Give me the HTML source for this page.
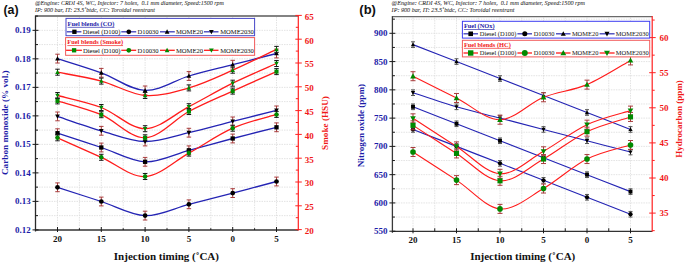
<!DOCTYPE html>
<html><head><meta charset="utf-8"><style>
html,body{margin:0;padding:0;background:#fff;width:685px;height:263px;overflow:hidden;}
svg{display:block;}
</style></head><body>
<svg width="685" height="263" viewBox="0 0 685 263">
<rect width="685" height="263" fill="#fff"/>
<path d="M57.5,17 V229 M79.4,17 V229 M101.3,17 V229 M123.2,17 V229 M145.1,17 V229 M167,17 V229 M188.9,17 V229 M210.8,17 V229 M232.7,17 V229 M254.6,17 V229 M276.5,17 V229 M36.5,215.64 H297.3 M36.5,201.39 H297.3 M36.5,187.13 H297.3 M36.5,172.88 H297.3 M36.5,158.63 H297.3 M36.5,144.37 H297.3 M36.5,130.12 H297.3 M36.5,115.86 H297.3 M36.5,101.6 H297.3 M36.5,87.35 H297.3 M36.5,73.1 H297.3 M36.5,58.84 H297.3 M36.5,44.59 H297.3 M36.5,30.33 H297.3" stroke="#dcdcdc" stroke-width="0.8" stroke-dasharray="1.5 1" fill="none"/>
<path d="M35.5,16 H298.3" stroke="#5a5a5a" stroke-width="1.4" fill="none"/>
<path d="M35.5,15.5 V231.5" stroke="#2a2a2a" stroke-width="1.3" fill="none"/>
<path d="M35.5,230 H298.3" stroke="#333" stroke-width="1.3" fill="none"/>
<path d="M298.3,15.5 V230.5" stroke="#ff2020" stroke-width="1.2" fill="none"/>
<path d="M57.5,227 V232 M101.3,227 V232 M145.1,227 V232 M188.9,227 V232 M232.7,227 V232 M276.5,227 V232 M79.4,228.2 V230 M123.2,228.2 V230 M167,228.2 V230 M210.8,228.2 V230 M254.6,228.2 V230" stroke="#1a1a1a" stroke-width="1" fill="none"/>
<path d="M32.5,229.9 H38.5 M32.5,201.39 H38.5 M32.5,172.88 H38.5 M32.5,144.37 H38.5 M32.5,115.86 H38.5 M32.5,87.35 H38.5 M32.5,58.84 H38.5 M32.5,30.33 H38.5 M35.5,215.64 H38 M35.5,187.13 H38 M35.5,158.63 H38 M35.5,130.12 H38 M35.5,101.6 H38 M35.5,73.1 H38 M35.5,44.59 H38 M35.5,16.07 H38" stroke="#1a1a1a" stroke-width="1" fill="none"/>
<path d="M295.3,229.6 H301.8 M295.3,205.8 H301.8 M295.3,182 H301.8 M295.3,158.2 H301.8 M295.3,134.4 H301.8 M295.3,110.6 H301.8 M295.3,86.8 H301.8 M295.3,63 H301.8 M295.3,39.2 H301.8 M295.3,15.4 H301.8 M295.8,217.7 H298.3 M295.8,193.9 H298.3 M295.8,170.1 H298.3 M295.8,146.3 H298.3 M295.8,122.5 H298.3 M295.8,98.7 H298.3 M295.8,74.9 H298.3 M295.8,51.1 H298.3 M295.8,27.3 H298.3" stroke="#ff2020" stroke-width="1" fill="none"/>
<text x="57.5" y="242.2" text-anchor="middle" font-family='"Liberation Serif", serif' font-weight="bold" font-size="9" fill="#111">20</text>
<text x="101.3" y="242.2" text-anchor="middle" font-family='"Liberation Serif", serif' font-weight="bold" font-size="9" fill="#111">15</text>
<text x="145.1" y="242.2" text-anchor="middle" font-family='"Liberation Serif", serif' font-weight="bold" font-size="9" fill="#111">10</text>
<text x="188.9" y="242.2" text-anchor="middle" font-family='"Liberation Serif", serif' font-weight="bold" font-size="9" fill="#111">5</text>
<text x="232.7" y="242.2" text-anchor="middle" font-family='"Liberation Serif", serif' font-weight="bold" font-size="9" fill="#111">0</text>
<text x="276.5" y="242.2" text-anchor="middle" font-family='"Liberation Serif", serif' font-weight="bold" font-size="9" fill="#111">5</text>
<text x="30.7" y="233" text-anchor="end" font-family='"Liberation Serif", serif' font-weight="bold" font-size="9" fill="#1c1ca8">0.12</text>
<text x="30.7" y="204.49" text-anchor="end" font-family='"Liberation Serif", serif' font-weight="bold" font-size="9" fill="#1c1ca8">0.13</text>
<text x="30.7" y="175.98" text-anchor="end" font-family='"Liberation Serif", serif' font-weight="bold" font-size="9" fill="#1c1ca8">0.14</text>
<text x="30.7" y="147.47" text-anchor="end" font-family='"Liberation Serif", serif' font-weight="bold" font-size="9" fill="#1c1ca8">0.15</text>
<text x="30.7" y="118.96" text-anchor="end" font-family='"Liberation Serif", serif' font-weight="bold" font-size="9" fill="#1c1ca8">0.16</text>
<text x="30.7" y="90.45" text-anchor="end" font-family='"Liberation Serif", serif' font-weight="bold" font-size="9" fill="#1c1ca8">0.17</text>
<text x="30.7" y="61.94" text-anchor="end" font-family='"Liberation Serif", serif' font-weight="bold" font-size="9" fill="#1c1ca8">0.18</text>
<text x="30.7" y="33.43" text-anchor="end" font-family='"Liberation Serif", serif' font-weight="bold" font-size="9" fill="#1c1ca8">0.19</text>
<text x="304.8" y="234" font-family='"Liberation Serif", serif' font-weight="bold" font-size="9" fill="#f01818">20</text>
<text x="304.8" y="210.2" font-family='"Liberation Serif", serif' font-weight="bold" font-size="9" fill="#f01818">25</text>
<text x="304.8" y="186.4" font-family='"Liberation Serif", serif' font-weight="bold" font-size="9" fill="#f01818">30</text>
<text x="304.8" y="162.6" font-family='"Liberation Serif", serif' font-weight="bold" font-size="9" fill="#f01818">35</text>
<text x="304.8" y="138.8" font-family='"Liberation Serif", serif' font-weight="bold" font-size="9" fill="#f01818">40</text>
<text x="304.8" y="115" font-family='"Liberation Serif", serif' font-weight="bold" font-size="9" fill="#f01818">45</text>
<text x="304.8" y="91.2" font-family='"Liberation Serif", serif' font-weight="bold" font-size="9" fill="#f01818">50</text>
<text x="304.8" y="67.4" font-family='"Liberation Serif", serif' font-weight="bold" font-size="9" fill="#f01818">55</text>
<text x="304.8" y="43.6" font-family='"Liberation Serif", serif' font-weight="bold" font-size="9" fill="#f01818">60</text>
<text x="304.8" y="19.8" font-family='"Liberation Serif", serif' font-weight="bold" font-size="9" fill="#f01818">65</text>
<text x="166.4" y="259.8" text-anchor="middle" font-family='"Liberation Serif", serif' font-weight="bold" font-size="11" fill="#111">Injection timing (&#730;CA)</text>
<text transform="translate(8.2,122.7) rotate(-90)" text-anchor="middle" font-family='"Liberation Serif", serif' font-weight="bold" font-size="9.2" fill="#1c1ca8">Carbon monoxide (% vol.)</text>
<text transform="translate(328.1,123) rotate(-90)" text-anchor="middle" font-family='"Liberation Serif", serif' font-weight="bold" font-size="9.2" fill="#f01818">Smoke (HSU)</text>
<text x="34.9" y="5.4" font-family='"Liberation Serif", serif' font-style="italic" font-size="6.0" fill="#2a2a2a" stroke="#2a2a2a" stroke-width="0.05">@Engine: CRDI 4S, WC, Injector: 7 holes,&#160; 0.1 mm diameter, Speed:1500 rpm</text>
<text x="34.9" y="12.4" font-family='"Liberation Serif", serif' font-style="italic" font-size="6.0" fill="#2a2a2a" stroke="#2a2a2a" stroke-width="0.05">IP: 900 bar, IT: 23.5&#730;btdc, CC: Toroidal reentrant</text>
<text x="3.4" y="14.3" font-family='"Liberation Sans", sans-serif' font-weight="bold" font-size="12.4" fill="#111">(a)</text>
<path d="M57.5,58.6 C64.8,60.97 86.7,67.5 101.3,72.8 C115.9,78.1 130.5,89.87 145.1,90.4 C159.7,90.93 174.3,80.28 188.9,76 C203.5,71.72 218.1,68.45 232.7,64.7 C247.3,60.95 269.2,55.37 276.5,53.5" stroke="#2424b4" stroke-width="1.3" fill="none"/>
<path d="M57.5,116.4 C64.8,118.8 86.7,126.62 101.3,130.8 C115.9,134.98 130.5,141.18 145.1,141.5 C159.7,141.82 174.3,136.05 188.9,132.7 C203.5,129.35 218.1,125.12 232.7,121.4 C247.3,117.68 269.2,112.23 276.5,110.4" stroke="#2424b4" stroke-width="1.3" fill="none"/>
<path d="M57.5,133.2 C64.8,135.58 86.7,142.73 101.3,147.5 C115.9,152.27 130.5,161.33 145.1,161.8 C159.7,162.27 174.3,154.18 188.9,150.3 C203.5,146.42 218.1,142.33 232.7,138.5 C247.3,134.67 269.2,129.17 276.5,127.3" stroke="#2424b4" stroke-width="1.3" fill="none"/>
<path d="M57.5,187.3 C64.8,189.67 86.7,196.78 101.3,201.5 C115.9,206.22 130.5,215.13 145.1,215.6 C159.7,216.07 174.3,208.05 188.9,204.3 C203.5,200.55 218.1,196.9 232.7,193.1 C247.3,189.3 269.2,183.43 276.5,181.5" stroke="#2424b4" stroke-width="1.3" fill="none"/>
<path d="M57.5,54.2 V63 M55.25,54.2 H59.75 M55.25,63 H59.75" stroke="#a83c3c" stroke-width="1.0" fill="none"/>
<path d="M101.3,68.4 V77.2 M99.05,68.4 H103.55 M99.05,77.2 H103.55" stroke="#a83c3c" stroke-width="1.0" fill="none"/>
<path d="M145.1,86 V94.8 M142.85,86 H147.35 M142.85,94.8 H147.35" stroke="#a83c3c" stroke-width="1.0" fill="none"/>
<path d="M188.9,71.6 V80.4 M186.65,71.6 H191.15 M186.65,80.4 H191.15" stroke="#a83c3c" stroke-width="1.0" fill="none"/>
<path d="M232.7,60.3 V69.1 M230.45,60.3 H234.95 M230.45,69.1 H234.95" stroke="#a83c3c" stroke-width="1.0" fill="none"/>
<path d="M276.5,49.1 V57.9 M274.25,49.1 H278.75 M274.25,57.9 H278.75" stroke="#a83c3c" stroke-width="1.0" fill="none"/>
<path d="M57.5,112 V120.8 M55.25,112 H59.75 M55.25,120.8 H59.75" stroke="#a83c3c" stroke-width="1.0" fill="none"/>
<path d="M101.3,126.4 V135.2 M99.05,126.4 H103.55 M99.05,135.2 H103.55" stroke="#a83c3c" stroke-width="1.0" fill="none"/>
<path d="M145.1,137.1 V145.9 M142.85,137.1 H147.35 M142.85,145.9 H147.35" stroke="#a83c3c" stroke-width="1.0" fill="none"/>
<path d="M188.9,128.3 V137.1 M186.65,128.3 H191.15 M186.65,137.1 H191.15" stroke="#a83c3c" stroke-width="1.0" fill="none"/>
<path d="M232.7,117 V125.8 M230.45,117 H234.95 M230.45,125.8 H234.95" stroke="#a83c3c" stroke-width="1.0" fill="none"/>
<path d="M276.5,106 V114.8 M274.25,106 H278.75 M274.25,114.8 H278.75" stroke="#a83c3c" stroke-width="1.0" fill="none"/>
<path d="M57.5,128.8 V137.6 M55.25,128.8 H59.75 M55.25,137.6 H59.75" stroke="#a83c3c" stroke-width="1.0" fill="none"/>
<path d="M101.3,143.1 V151.9 M99.05,143.1 H103.55 M99.05,151.9 H103.55" stroke="#a83c3c" stroke-width="1.0" fill="none"/>
<path d="M145.1,157.4 V166.2 M142.85,157.4 H147.35 M142.85,166.2 H147.35" stroke="#a83c3c" stroke-width="1.0" fill="none"/>
<path d="M188.9,145.9 V154.7 M186.65,145.9 H191.15 M186.65,154.7 H191.15" stroke="#a83c3c" stroke-width="1.0" fill="none"/>
<path d="M232.7,134.1 V142.9 M230.45,134.1 H234.95 M230.45,142.9 H234.95" stroke="#a83c3c" stroke-width="1.0" fill="none"/>
<path d="M276.5,122.9 V131.7 M274.25,122.9 H278.75 M274.25,131.7 H278.75" stroke="#a83c3c" stroke-width="1.0" fill="none"/>
<path d="M57.5,182.9 V191.7 M55.25,182.9 H59.75 M55.25,191.7 H59.75" stroke="#a83c3c" stroke-width="1.0" fill="none"/>
<path d="M101.3,197.1 V205.9 M99.05,197.1 H103.55 M99.05,205.9 H103.55" stroke="#a83c3c" stroke-width="1.0" fill="none"/>
<path d="M145.1,211.2 V220 M142.85,211.2 H147.35 M142.85,220 H147.35" stroke="#a83c3c" stroke-width="1.0" fill="none"/>
<path d="M188.9,199.9 V208.7 M186.65,199.9 H191.15 M186.65,208.7 H191.15" stroke="#a83c3c" stroke-width="1.0" fill="none"/>
<path d="M232.7,188.7 V197.5 M230.45,188.7 H234.95 M230.45,197.5 H234.95" stroke="#a83c3c" stroke-width="1.0" fill="none"/>
<path d="M276.5,177.1 V185.9 M274.25,177.1 H278.75 M274.25,185.9 H278.75" stroke="#a83c3c" stroke-width="1.0" fill="none"/>
<path d="M57.5,56.15 L59.87,60.44 L55.13,60.44 Z" fill="#000"/>
<path d="M101.3,70.35 L103.66,74.64 L98.94,74.64 Z" fill="#000"/>
<path d="M145.1,87.95 L147.47,92.24 L142.73,92.24 Z" fill="#000"/>
<path d="M188.9,73.55 L191.26,77.84 L186.53,77.84 Z" fill="#000"/>
<path d="M232.7,62.25 L235.06,66.54 L230.33,66.54 Z" fill="#000"/>
<path d="M276.5,51.05 L278.87,55.34 L274.13,55.34 Z" fill="#000"/>
<path d="M57.5,118.85 L59.87,114.56 L55.13,114.56 Z" fill="#000"/>
<path d="M101.3,133.25 L103.66,128.96 L98.94,128.96 Z" fill="#000"/>
<path d="M145.1,143.95 L147.47,139.66 L142.73,139.66 Z" fill="#000"/>
<path d="M188.9,135.15 L191.26,130.86 L186.53,130.86 Z" fill="#000"/>
<path d="M232.7,123.85 L235.06,119.56 L230.33,119.56 Z" fill="#000"/>
<path d="M276.5,112.85 L278.87,108.56 L274.13,108.56 Z" fill="#000"/>
<rect x="55.35" y="131.05" width="4.3" height="4.3" fill="#000"/>
<rect x="99.15" y="145.35" width="4.3" height="4.3" fill="#000"/>
<rect x="142.95" y="159.65" width="4.3" height="4.3" fill="#000"/>
<rect x="186.75" y="148.15" width="4.3" height="4.3" fill="#000"/>
<rect x="230.55" y="136.35" width="4.3" height="4.3" fill="#000"/>
<rect x="274.35" y="125.15" width="4.3" height="4.3" fill="#000"/>
<circle cx="57.5" cy="187.3" r="2.37" fill="#000"/>
<circle cx="101.3" cy="201.5" r="2.37" fill="#000"/>
<circle cx="145.1" cy="215.6" r="2.37" fill="#000"/>
<circle cx="188.9" cy="204.3" r="2.37" fill="#000"/>
<circle cx="232.7" cy="193.1" r="2.37" fill="#000"/>
<circle cx="276.5" cy="181.5" r="2.37" fill="#000"/>
<path d="M57.5,72.2 C64.8,73.68 86.7,77.22 101.3,81.1 C115.9,84.98 130.5,94.37 145.1,95.5 C159.7,96.63 174.3,92.12 188.9,87.9 C203.5,83.68 218.1,76.62 232.7,70.2 C247.3,63.78 269.2,52.87 276.5,49.4" stroke="#ff1c1c" stroke-width="1.3" fill="none"/>
<path d="M57.5,95.5 C64.8,97.5 86.7,101.97 101.3,107.5 C115.9,113.03 130.5,128.83 145.1,128.7 C159.7,128.57 174.3,114.28 188.9,106.7 C203.5,99.12 218.1,90.4 232.7,83.2 C247.3,76 269.2,66.78 276.5,63.5" stroke="#ff1c1c" stroke-width="1.3" fill="none"/>
<path d="M57.5,100.9 C64.8,103.2 86.7,108.55 101.3,114.7 C115.9,120.85 130.5,138.33 145.1,137.8 C159.7,137.27 174.3,119.28 188.9,111.5 C203.5,103.72 218.1,97.75 232.7,91.1 C247.3,84.45 269.2,74.85 276.5,71.6" stroke="#ff1c1c" stroke-width="1.3" fill="none"/>
<path d="M57.5,137.8 C64.8,141.05 86.7,150.85 101.3,157.3 C115.9,163.75 130.5,177.2 145.1,176.5 C159.7,175.8 174.3,161.15 188.9,153.1 C203.5,145.05 218.1,134.65 232.7,128.2 C247.3,121.75 269.2,116.7 276.5,114.4" stroke="#ff1c1c" stroke-width="1.3" fill="none"/>
<path d="M57.5,69.2 V75.2 M55.25,69.2 H59.75 M55.25,75.2 H59.75" stroke="#1a1a1a" stroke-width="1.0" fill="none"/>
<path d="M101.3,78.1 V84.1 M99.05,78.1 H103.55 M99.05,84.1 H103.55" stroke="#1a1a1a" stroke-width="1.0" fill="none"/>
<path d="M145.1,92.5 V98.5 M142.85,92.5 H147.35 M142.85,98.5 H147.35" stroke="#1a1a1a" stroke-width="1.0" fill="none"/>
<path d="M188.9,84.9 V90.9 M186.65,84.9 H191.15 M186.65,90.9 H191.15" stroke="#1a1a1a" stroke-width="1.0" fill="none"/>
<path d="M232.7,67.2 V73.2 M230.45,67.2 H234.95 M230.45,73.2 H234.95" stroke="#1a1a1a" stroke-width="1.0" fill="none"/>
<path d="M276.5,46.4 V52.4 M274.25,46.4 H278.75 M274.25,52.4 H278.75" stroke="#1a1a1a" stroke-width="1.0" fill="none"/>
<path d="M57.5,92.5 V98.5 M55.25,92.5 H59.75 M55.25,98.5 H59.75" stroke="#1a1a1a" stroke-width="1.0" fill="none"/>
<path d="M101.3,104.5 V110.5 M99.05,104.5 H103.55 M99.05,110.5 H103.55" stroke="#1a1a1a" stroke-width="1.0" fill="none"/>
<path d="M145.1,125.7 V131.7 M142.85,125.7 H147.35 M142.85,131.7 H147.35" stroke="#1a1a1a" stroke-width="1.0" fill="none"/>
<path d="M188.9,103.7 V109.7 M186.65,103.7 H191.15 M186.65,109.7 H191.15" stroke="#1a1a1a" stroke-width="1.0" fill="none"/>
<path d="M232.7,80.2 V86.2 M230.45,80.2 H234.95 M230.45,86.2 H234.95" stroke="#1a1a1a" stroke-width="1.0" fill="none"/>
<path d="M276.5,60.5 V66.5 M274.25,60.5 H278.75 M274.25,66.5 H278.75" stroke="#1a1a1a" stroke-width="1.0" fill="none"/>
<path d="M57.5,97.9 V103.9 M55.25,97.9 H59.75 M55.25,103.9 H59.75" stroke="#1a1a1a" stroke-width="1.0" fill="none"/>
<path d="M101.3,111.7 V117.7 M99.05,111.7 H103.55 M99.05,117.7 H103.55" stroke="#1a1a1a" stroke-width="1.0" fill="none"/>
<path d="M145.1,134.8 V140.8 M142.85,134.8 H147.35 M142.85,140.8 H147.35" stroke="#1a1a1a" stroke-width="1.0" fill="none"/>
<path d="M188.9,108.5 V114.5 M186.65,108.5 H191.15 M186.65,114.5 H191.15" stroke="#1a1a1a" stroke-width="1.0" fill="none"/>
<path d="M232.7,88.1 V94.1 M230.45,88.1 H234.95 M230.45,94.1 H234.95" stroke="#1a1a1a" stroke-width="1.0" fill="none"/>
<path d="M276.5,68.6 V74.6 M274.25,68.6 H278.75 M274.25,74.6 H278.75" stroke="#1a1a1a" stroke-width="1.0" fill="none"/>
<path d="M57.5,134.8 V140.8 M55.25,134.8 H59.75 M55.25,140.8 H59.75" stroke="#1a1a1a" stroke-width="1.0" fill="none"/>
<path d="M101.3,154.3 V160.3 M99.05,154.3 H103.55 M99.05,160.3 H103.55" stroke="#1a1a1a" stroke-width="1.0" fill="none"/>
<path d="M145.1,173.5 V179.5 M142.85,173.5 H147.35 M142.85,179.5 H147.35" stroke="#1a1a1a" stroke-width="1.0" fill="none"/>
<path d="M188.9,150.1 V156.1 M186.65,150.1 H191.15 M186.65,156.1 H191.15" stroke="#1a1a1a" stroke-width="1.0" fill="none"/>
<path d="M232.7,125.2 V131.2 M230.45,125.2 H234.95 M230.45,131.2 H234.95" stroke="#1a1a1a" stroke-width="1.0" fill="none"/>
<path d="M276.5,111.4 V117.4 M274.25,111.4 H278.75 M274.25,117.4 H278.75" stroke="#1a1a1a" stroke-width="1.0" fill="none"/>
<path d="M57.5,69.86 L59.76,73.95 L55.24,73.95 Z" fill="#008a00"/>
<path d="M101.3,78.76 L103.55,82.85 L99.05,82.85 Z" fill="#008a00"/>
<path d="M145.1,93.16 L147.35,97.25 L142.84,97.25 Z" fill="#008a00"/>
<path d="M188.9,85.56 L191.15,89.65 L186.64,89.65 Z" fill="#008a00"/>
<path d="M232.7,67.86 L234.95,71.95 L230.44,71.95 Z" fill="#008a00"/>
<path d="M276.5,47.06 L278.75,51.15 L274.25,51.15 Z" fill="#008a00"/>
<path d="M57.5,97.84 L59.76,93.75 L55.24,93.75 Z" fill="#008a00"/>
<path d="M101.3,109.84 L103.55,105.75 L99.05,105.75 Z" fill="#008a00"/>
<path d="M145.1,131.04 L147.35,126.95 L142.84,126.95 Z" fill="#008a00"/>
<path d="M188.9,109.04 L191.15,104.95 L186.64,104.95 Z" fill="#008a00"/>
<path d="M232.7,85.54 L234.95,81.45 L230.44,81.45 Z" fill="#008a00"/>
<path d="M276.5,65.84 L278.75,61.75 L274.25,61.75 Z" fill="#008a00"/>
<rect x="55.45" y="98.85" width="4.1" height="4.1" fill="#008a00"/>
<rect x="99.25" y="112.65" width="4.1" height="4.1" fill="#008a00"/>
<rect x="143.05" y="135.75" width="4.1" height="4.1" fill="#008a00"/>
<rect x="186.85" y="109.45" width="4.1" height="4.1" fill="#008a00"/>
<rect x="230.65" y="89.05" width="4.1" height="4.1" fill="#008a00"/>
<rect x="274.45" y="69.55" width="4.1" height="4.1" fill="#008a00"/>
<circle cx="57.5" cy="137.8" r="2.25" fill="#008a00"/>
<circle cx="101.3" cy="157.3" r="2.25" fill="#008a00"/>
<circle cx="145.1" cy="176.5" r="2.25" fill="#008a00"/>
<circle cx="188.9" cy="153.1" r="2.25" fill="#008a00"/>
<circle cx="232.7" cy="128.2" r="2.25" fill="#008a00"/>
<circle cx="276.5" cy="114.4" r="2.25" fill="#008a00"/>
<rect x="66" y="18.4" width="188.6" height="17.3" fill="#fff" stroke="#4646c8" stroke-width="1"/>
<text x="67.6" y="25.9" font-family='"Liberation Serif", serif' font-weight="bold" font-size="6.4" fill="#1c1ca8" text-decoration="underline">Fuel blends (CO)</text>
<path d="M66.8,31.8 H81.4" stroke="#3a3ab8" stroke-width="1.3"/>
<rect x="72.25" y="29.65" width="4.3" height="4.3" fill="#000"/>
<text x="82.8" y="34.1" font-family='"Liberation Serif", serif' font-size="6.6" fill="#1a1a1a" stroke="#1a1a1a" stroke-width="0.04">Diesel (D100)</text>
<path d="M121.3,31.8 H136.2" stroke="#3a3ab8" stroke-width="1.3"/>
<circle cx="128.8" cy="31.8" r="2.37" fill="#000"/>
<text x="137.4" y="34.1" font-family='"Liberation Serif", serif' font-size="6.6" fill="#1a1a1a" stroke="#1a1a1a" stroke-width="0.04">D10030</text>
<path d="M160,31.8 H174.8" stroke="#3a3ab8" stroke-width="1.3"/>
<path d="M167.1,29.35 L169.47,33.64 L164.73,33.64 Z" fill="#000"/>
<text x="176" y="34.1" font-family='"Liberation Serif", serif' font-size="6.6" fill="#1a1a1a" stroke="#1a1a1a" stroke-width="0.04">MOME20</text>
<path d="M204,31.8 H218.5" stroke="#3a3ab8" stroke-width="1.3"/>
<path d="M211.4,34.25 L213.77,29.96 L209.03,29.96 Z" fill="#000"/>
<text x="220.2" y="34.1" font-family='"Liberation Serif", serif' font-size="6.6" fill="#1a1a1a" stroke="#1a1a1a" stroke-width="0.04">MOME2030</text>
<rect x="65.6" y="37.6" width="189" height="17.7" fill="#fff" stroke="#f25a5a" stroke-width="1"/>
<text x="67.3" y="44.4" font-family='"Liberation Serif", serif' font-weight="bold" font-size="6.4" fill="#f01818" text-decoration="underline">Fuel blends (Smoke)</text>
<path d="M66.1,50.3 H81.9" stroke="#ff1c1c" stroke-width="1.3"/>
<rect x="71.95" y="48.15" width="4.3" height="4.3" fill="#008a00"/>
<text x="83" y="52.6" font-family='"Liberation Serif", serif' font-size="6.6" fill="#1a1a1a" stroke="#1a1a1a" stroke-width="0.04">Diesel (D100)</text>
<path d="M121.3,50.3 H136.2" stroke="#ff1c1c" stroke-width="1.3"/>
<circle cx="128.8" cy="50.3" r="2.37" fill="#008a00"/>
<text x="137.4" y="52.6" font-family='"Liberation Serif", serif' font-size="6.6" fill="#1a1a1a" stroke="#1a1a1a" stroke-width="0.04">D10030</text>
<path d="M160,50.3 H174.8" stroke="#ff1c1c" stroke-width="1.3"/>
<path d="M167.1,47.85 L169.47,52.14 L164.73,52.14 Z" fill="#008a00"/>
<text x="176" y="52.6" font-family='"Liberation Serif", serif' font-size="6.6" fill="#1a1a1a" stroke="#1a1a1a" stroke-width="0.04">MOME20</text>
<path d="M204,50.3 H218.5" stroke="#ff1c1c" stroke-width="1.3"/>
<path d="M211.4,52.75 L213.77,48.46 L209.03,48.46 Z" fill="#008a00"/>
<text x="220.2" y="52.6" font-family='"Liberation Serif", serif' font-size="6.6" fill="#1a1a1a" stroke="#1a1a1a" stroke-width="0.04">MOME2030</text>
<path d="M413,17.6 V230.3 M434.75,17.6 V230.3 M456.5,17.6 V230.3 M478.25,17.6 V230.3 M500,17.6 V230.3 M521.75,17.6 V230.3 M543.5,17.6 V230.3 M565.25,17.6 V230.3 M587,17.6 V230.3 M608.75,17.6 V230.3 M630.5,17.6 V230.3 M393.4,217.06 H651.2 M393.4,202.93 H651.2 M393.4,188.79 H651.2 M393.4,174.66 H651.2 M393.4,160.52 H651.2 M393.4,146.39 H651.2 M393.4,132.25 H651.2 M393.4,118.12 H651.2 M393.4,103.98 H651.2 M393.4,89.85 H651.2 M393.4,75.71 H651.2 M393.4,61.58 H651.2 M393.4,47.44 H651.2 M393.4,33.31 H651.2 M393.4,19.17 H651.2" stroke="#dcdcdc" stroke-width="0.8" stroke-dasharray="1.5 1" fill="none"/>
<path d="M392.4,16.6 H652.2" stroke="#6a6a6a" stroke-width="1.4" fill="none"/>
<path d="M392.4,16.1 V232.8" stroke="#3a3a3a" stroke-width="1.3" fill="none"/>
<path d="M392.4,231.3 H652.2" stroke="#333" stroke-width="1.3" fill="none"/>
<path d="M652.2,16.1 V231.8" stroke="#ff2020" stroke-width="1.2" fill="none"/>
<path d="M413,228.3 V233.3 M456.5,228.3 V233.3 M500,228.3 V233.3 M543.5,228.3 V233.3 M587,228.3 V233.3 M630.5,228.3 V233.3 M434.75,228.3 V231.3 M478.25,228.3 V231.3 M521.75,228.3 V231.3 M565.25,228.3 V231.3 M608.75,228.3 V231.3" stroke="#1a1a1a" stroke-width="1" fill="none"/>
<path d="M389.4,231.2 H395.4 M389.4,202.93 H395.4 M389.4,174.66 H395.4 M389.4,146.39 H395.4 M389.4,118.12 H395.4 M389.4,89.85 H395.4 M389.4,61.58 H395.4 M389.4,33.31 H395.4 M392.4,217.06 H394.9 M392.4,188.79 H394.9 M392.4,160.52 H394.9 M392.4,132.25 H394.9 M392.4,103.98 H394.9 M392.4,75.71 H394.9 M392.4,47.44 H394.9 M392.4,19.17 H394.9" stroke="#1a1a1a" stroke-width="1" fill="none"/>
<path d="M649.2,213.1 H655.7 M649.2,178 H655.7 M649.2,142.9 H655.7 M649.2,107.8 H655.7 M649.2,72.7 H655.7 M649.2,37.6 H655.7 M652.2,230.65 H654.7 M652.2,195.55 H654.7 M652.2,160.45 H654.7 M652.2,125.35 H654.7 M652.2,90.25 H654.7 M652.2,55.15 H654.7 M652.2,20.05 H654.7" stroke="#ff2020" stroke-width="1" fill="none"/>
<text x="413" y="242.9" text-anchor="middle" font-family='"Liberation Serif", serif' font-weight="bold" font-size="9" fill="#111">20</text>
<text x="456.5" y="242.9" text-anchor="middle" font-family='"Liberation Serif", serif' font-weight="bold" font-size="9" fill="#111">15</text>
<text x="500" y="242.9" text-anchor="middle" font-family='"Liberation Serif", serif' font-weight="bold" font-size="9" fill="#111">10</text>
<text x="543.5" y="242.9" text-anchor="middle" font-family='"Liberation Serif", serif' font-weight="bold" font-size="9" fill="#111">5</text>
<text x="587" y="242.9" text-anchor="middle" font-family='"Liberation Serif", serif' font-weight="bold" font-size="9" fill="#111">0</text>
<text x="630.5" y="242.9" text-anchor="middle" font-family='"Liberation Serif", serif' font-weight="bold" font-size="9" fill="#111">5</text>
<text x="387.6" y="234.3" text-anchor="end" font-family='"Liberation Serif", serif' font-weight="bold" font-size="9" fill="#1c1ca8">550</text>
<text x="387.6" y="206.03" text-anchor="end" font-family='"Liberation Serif", serif' font-weight="bold" font-size="9" fill="#1c1ca8">600</text>
<text x="387.6" y="177.76" text-anchor="end" font-family='"Liberation Serif", serif' font-weight="bold" font-size="9" fill="#1c1ca8">650</text>
<text x="387.6" y="149.49" text-anchor="end" font-family='"Liberation Serif", serif' font-weight="bold" font-size="9" fill="#1c1ca8">700</text>
<text x="387.6" y="121.22" text-anchor="end" font-family='"Liberation Serif", serif' font-weight="bold" font-size="9" fill="#1c1ca8">750</text>
<text x="387.6" y="92.95" text-anchor="end" font-family='"Liberation Serif", serif' font-weight="bold" font-size="9" fill="#1c1ca8">800</text>
<text x="387.6" y="64.68" text-anchor="end" font-family='"Liberation Serif", serif' font-weight="bold" font-size="9" fill="#1c1ca8">850</text>
<text x="387.6" y="36.41" text-anchor="end" font-family='"Liberation Serif", serif' font-weight="bold" font-size="9" fill="#1c1ca8">900</text>
<text x="659.5" y="216.3" font-family='"Liberation Serif", serif' font-weight="bold" font-size="9" fill="#f01818">35</text>
<text x="659.5" y="181.2" font-family='"Liberation Serif", serif' font-weight="bold" font-size="9" fill="#f01818">40</text>
<text x="659.5" y="146.1" font-family='"Liberation Serif", serif' font-weight="bold" font-size="9" fill="#f01818">45</text>
<text x="659.5" y="111" font-family='"Liberation Serif", serif' font-weight="bold" font-size="9" fill="#f01818">50</text>
<text x="659.5" y="75.9" font-family='"Liberation Serif", serif' font-weight="bold" font-size="9" fill="#f01818">55</text>
<text x="659.5" y="40.8" font-family='"Liberation Serif", serif' font-weight="bold" font-size="9" fill="#f01818">60</text>
<text x="522.7" y="259.6" text-anchor="middle" font-family='"Liberation Serif", serif' font-weight="bold" font-size="11" fill="#111">Injection timing (&#730;CA)</text>
<text transform="translate(363.7,125.6) rotate(-90)" text-anchor="middle" font-family='"Liberation Serif", serif' font-weight="bold" font-size="9.1" fill="#1c1ca8">Nitrogen oxide (ppm)</text>
<text transform="translate(681.8,119) rotate(-90)" text-anchor="middle" font-family='"Liberation Serif", serif' font-weight="bold" font-size="9.0" fill="#f01818">Hydrocarbon (ppm)</text>
<text x="391.6" y="5.4" font-family='"Liberation Serif", serif' font-style="italic" font-size="6.15" fill="#2a2a2a" stroke="#2a2a2a" stroke-width="0.05">@Engine: CRDI 4S, WC, Injector: 7 holes,&#160; 0.1 mm diameter, Speed:1500 rpm</text>
<text x="391.6" y="12.4" font-family='"Liberation Serif", serif' font-style="italic" font-size="6.15" fill="#2a2a2a" stroke="#2a2a2a" stroke-width="0.05">IP: 900 bar, IT: 23.5&#730;btdc, CC: Toroidal reentrant</text>
<text x="359.3" y="13.6" font-family='"Liberation Sans", sans-serif' font-weight="bold" font-size="13" fill="#111">(b)</text>
<path d="M413,44.62 C420.25,47.44 442,55.93 456.5,61.58 C471,67.23 485.5,72.89 500,78.54 C514.5,84.2 529,89.85 543.5,95.5 C558,101.16 572.5,106.81 587,112.47 C601.5,118.12 623.25,126.6 630.5,129.43" stroke="#2424b4" stroke-width="1.12" fill="none"/>
<path d="M413,92.68 C420.25,95.03 442,102.57 456.5,106.81 C471,111.05 485.5,114.35 500,118.12 C514.5,121.89 529,125.66 543.5,129.43 C558,133.2 572.5,136.97 587,140.74 C601.5,144.51 623.25,150.16 630.5,152.04" stroke="#2424b4" stroke-width="1.12" fill="none"/>
<path d="M413,106.81 C420.25,109.64 442,118.12 456.5,123.77 C471,129.43 485.5,135.08 500,140.74 C514.5,146.39 529,152.04 543.5,157.7 C558,163.35 572.5,169.01 587,174.66 C601.5,180.31 623.25,188.79 630.5,191.62" stroke="#2424b4" stroke-width="1.12" fill="none"/>
<path d="M413,129.43 C420.25,132.25 442,140.74 456.5,146.39 C471,152.04 485.5,157.7 500,163.35 C514.5,169.01 529,174.66 543.5,180.31 C558,185.97 572.5,191.62 587,197.28 C601.5,202.93 623.25,211.41 630.5,214.24" stroke="#2424b4" stroke-width="1.12" fill="none"/>
<path d="M413,41.82 V47.42 M411,41.82 H415 M411,47.42 H415" stroke="#555" stroke-width="1.0" fill="none"/>
<path d="M456.5,58.78 V64.38 M454.5,58.78 H458.5 M454.5,64.38 H458.5" stroke="#555" stroke-width="1.0" fill="none"/>
<path d="M500,75.74 V81.34 M498,75.74 H502 M498,81.34 H502" stroke="#555" stroke-width="1.0" fill="none"/>
<path d="M543.5,92.7 V98.3 M541.5,92.7 H545.5 M541.5,98.3 H545.5" stroke="#555" stroke-width="1.0" fill="none"/>
<path d="M587,109.67 V115.27 M585,109.67 H589 M585,115.27 H589" stroke="#555" stroke-width="1.0" fill="none"/>
<path d="M630.5,126.63 V132.23 M628.5,126.63 H632.5 M628.5,132.23 H632.5" stroke="#555" stroke-width="1.0" fill="none"/>
<path d="M413,89.88 V95.48 M411,89.88 H415 M411,95.48 H415" stroke="#555" stroke-width="1.0" fill="none"/>
<path d="M456.5,104.01 V109.61 M454.5,104.01 H458.5 M454.5,109.61 H458.5" stroke="#555" stroke-width="1.0" fill="none"/>
<path d="M500,115.32 V120.92 M498,115.32 H502 M498,120.92 H502" stroke="#555" stroke-width="1.0" fill="none"/>
<path d="M543.5,126.63 V132.23 M541.5,126.63 H545.5 M541.5,132.23 H545.5" stroke="#555" stroke-width="1.0" fill="none"/>
<path d="M587,137.94 V143.54 M585,137.94 H589 M585,143.54 H589" stroke="#555" stroke-width="1.0" fill="none"/>
<path d="M630.5,149.24 V154.84 M628.5,149.24 H632.5 M628.5,154.84 H632.5" stroke="#555" stroke-width="1.0" fill="none"/>
<path d="M413,104.01 V109.61 M411,104.01 H415 M411,109.61 H415" stroke="#555" stroke-width="1.0" fill="none"/>
<path d="M456.5,120.97 V126.57 M454.5,120.97 H458.5 M454.5,126.57 H458.5" stroke="#555" stroke-width="1.0" fill="none"/>
<path d="M500,137.94 V143.54 M498,137.94 H502 M498,143.54 H502" stroke="#555" stroke-width="1.0" fill="none"/>
<path d="M543.5,154.9 V160.5 M541.5,154.9 H545.5 M541.5,160.5 H545.5" stroke="#555" stroke-width="1.0" fill="none"/>
<path d="M587,171.86 V177.46 M585,171.86 H589 M585,177.46 H589" stroke="#555" stroke-width="1.0" fill="none"/>
<path d="M630.5,188.82 V194.42 M628.5,188.82 H632.5 M628.5,194.42 H632.5" stroke="#555" stroke-width="1.0" fill="none"/>
<path d="M413,126.63 V132.23 M411,126.63 H415 M411,132.23 H415" stroke="#555" stroke-width="1.0" fill="none"/>
<path d="M456.5,143.59 V149.19 M454.5,143.59 H458.5 M454.5,149.19 H458.5" stroke="#555" stroke-width="1.0" fill="none"/>
<path d="M500,160.55 V166.15 M498,160.55 H502 M498,166.15 H502" stroke="#555" stroke-width="1.0" fill="none"/>
<path d="M543.5,177.51 V183.11 M541.5,177.51 H545.5 M541.5,183.11 H545.5" stroke="#555" stroke-width="1.0" fill="none"/>
<path d="M587,194.48 V200.08 M585,194.48 H589 M585,200.08 H589" stroke="#555" stroke-width="1.0" fill="none"/>
<path d="M630.5,211.44 V217.04 M628.5,211.44 H632.5 M628.5,217.04 H632.5" stroke="#555" stroke-width="1.0" fill="none"/>
<path d="M413,42.39 L415.14,46.29 L410.86,46.29 Z" fill="#000"/>
<path d="M456.5,59.36 L458.64,63.25 L454.36,63.25 Z" fill="#000"/>
<path d="M500,76.32 L502.14,80.21 L497.86,80.21 Z" fill="#000"/>
<path d="M543.5,93.28 L545.64,97.17 L541.36,97.17 Z" fill="#000"/>
<path d="M587,110.24 L589.14,114.13 L584.86,114.13 Z" fill="#000"/>
<path d="M630.5,127.2 L632.64,131.1 L628.36,131.1 Z" fill="#000"/>
<path d="M413,94.9 L415.14,91.01 L410.86,91.01 Z" fill="#000"/>
<path d="M456.5,109.03 L458.64,105.14 L454.36,105.14 Z" fill="#000"/>
<path d="M500,120.34 L502.14,116.45 L497.86,116.45 Z" fill="#000"/>
<path d="M543.5,131.65 L545.64,127.76 L541.36,127.76 Z" fill="#000"/>
<path d="M587,142.96 L589.14,139.07 L584.86,139.07 Z" fill="#000"/>
<path d="M630.5,154.27 L632.64,150.38 L628.36,150.38 Z" fill="#000"/>
<rect x="411.05" y="104.86" width="3.9" height="3.9" fill="#000"/>
<rect x="454.55" y="121.82" width="3.9" height="3.9" fill="#000"/>
<rect x="498.05" y="138.79" width="3.9" height="3.9" fill="#000"/>
<rect x="541.55" y="155.75" width="3.9" height="3.9" fill="#000"/>
<rect x="585.05" y="172.71" width="3.9" height="3.9" fill="#000"/>
<rect x="628.55" y="189.67" width="3.9" height="3.9" fill="#000"/>
<circle cx="413" cy="129.43" r="2.15" fill="#000"/>
<circle cx="456.5" cy="146.39" r="2.15" fill="#000"/>
<circle cx="500" cy="163.35" r="2.15" fill="#000"/>
<circle cx="543.5" cy="180.31" r="2.15" fill="#000"/>
<circle cx="587" cy="197.28" r="2.15" fill="#000"/>
<circle cx="630.5" cy="214.24" r="2.15" fill="#000"/>
<path d="M413,76.21 C420.25,79.84 442,90.72 456.5,97.97 C471,105.23 485.5,119.85 500,119.73 C514.5,119.62 529,103.12 543.5,97.27 C558,91.42 572.5,90.78 587,84.63 C601.5,78.49 623.25,64.45 630.5,60.41" stroke="#ff1c1c" stroke-width="1.12" fill="none"/>
<path d="M413,118.33 C420.25,123.01 442,137.17 456.5,146.41 C471,155.65 485.5,172.97 500,173.79 C514.5,174.61 529,159.51 543.5,151.32 C558,143.13 572.5,131.43 587,124.65 C601.5,117.86 623.25,112.95 630.5,110.61" stroke="#ff1c1c" stroke-width="1.12" fill="none"/>
<path d="M413,125.35 C420.25,130.03 442,144.19 456.5,153.43 C471,162.67 485.5,179.87 500,180.81 C514.5,181.74 529,167.24 543.5,159.05 C558,150.86 572.5,138.69 587,131.67 C601.5,124.65 623.25,119.38 630.5,116.93" stroke="#ff1c1c" stroke-width="1.12" fill="none"/>
<path d="M413,152.03 C420.25,156.71 442,170.63 456.5,180.11 C471,189.58 485.5,207.48 500,208.89 C514.5,210.29 529,196.84 543.5,188.53 C558,180.22 572.5,166.3 587,159.05 C601.5,151.79 623.25,147.35 630.5,145.01" stroke="#ff1c1c" stroke-width="1.12" fill="none"/>
<path d="M413,71.71 V80.71 M410.5,71.71 H415.5 M410.5,80.71 H415.5" stroke="#a83c3c" stroke-width="1.0" fill="none"/>
<path d="M456.5,93.47 V102.47 M454,93.47 H459 M454,102.47 H459" stroke="#a83c3c" stroke-width="1.0" fill="none"/>
<path d="M500,115.23 V124.23 M497.5,115.23 H502.5 M497.5,124.23 H502.5" stroke="#a83c3c" stroke-width="1.0" fill="none"/>
<path d="M543.5,92.77 V101.77 M541,92.77 H546 M541,101.77 H546" stroke="#a83c3c" stroke-width="1.0" fill="none"/>
<path d="M587,80.13 V89.13 M584.5,80.13 H589.5 M584.5,89.13 H589.5" stroke="#a83c3c" stroke-width="1.0" fill="none"/>
<path d="M630.5,55.91 V64.91 M628,55.91 H633 M628,64.91 H633" stroke="#a83c3c" stroke-width="1.0" fill="none"/>
<path d="M413,113.83 V122.83 M410.5,113.83 H415.5 M410.5,122.83 H415.5" stroke="#a83c3c" stroke-width="1.0" fill="none"/>
<path d="M456.5,141.91 V150.91 M454,141.91 H459 M454,150.91 H459" stroke="#a83c3c" stroke-width="1.0" fill="none"/>
<path d="M500,169.29 V178.29 M497.5,169.29 H502.5 M497.5,178.29 H502.5" stroke="#a83c3c" stroke-width="1.0" fill="none"/>
<path d="M543.5,146.82 V155.82 M541,146.82 H546 M541,155.82 H546" stroke="#a83c3c" stroke-width="1.0" fill="none"/>
<path d="M587,120.15 V129.15 M584.5,120.15 H589.5 M584.5,129.15 H589.5" stroke="#a83c3c" stroke-width="1.0" fill="none"/>
<path d="M630.5,106.11 V115.11 M628,106.11 H633 M628,115.11 H633" stroke="#a83c3c" stroke-width="1.0" fill="none"/>
<path d="M413,120.85 V129.85 M410.5,120.85 H415.5 M410.5,129.85 H415.5" stroke="#a83c3c" stroke-width="1.0" fill="none"/>
<path d="M456.5,148.93 V157.93 M454,148.93 H459 M454,157.93 H459" stroke="#a83c3c" stroke-width="1.0" fill="none"/>
<path d="M500,176.31 V185.31 M497.5,176.31 H502.5 M497.5,185.31 H502.5" stroke="#a83c3c" stroke-width="1.0" fill="none"/>
<path d="M543.5,154.55 V163.55 M541,154.55 H546 M541,163.55 H546" stroke="#a83c3c" stroke-width="1.0" fill="none"/>
<path d="M587,127.17 V136.17 M584.5,127.17 H589.5 M584.5,136.17 H589.5" stroke="#a83c3c" stroke-width="1.0" fill="none"/>
<path d="M630.5,112.43 V121.43 M628,112.43 H633 M628,121.43 H633" stroke="#a83c3c" stroke-width="1.0" fill="none"/>
<path d="M413,147.53 V156.53 M410.5,147.53 H415.5 M410.5,156.53 H415.5" stroke="#a83c3c" stroke-width="1.0" fill="none"/>
<path d="M456.5,175.61 V184.61 M454,175.61 H459 M454,184.61 H459" stroke="#a83c3c" stroke-width="1.0" fill="none"/>
<path d="M500,204.39 V213.39 M497.5,204.39 H502.5 M497.5,213.39 H502.5" stroke="#a83c3c" stroke-width="1.0" fill="none"/>
<path d="M543.5,184.03 V193.03 M541,184.03 H546 M541,193.03 H546" stroke="#a83c3c" stroke-width="1.0" fill="none"/>
<path d="M587,154.55 V163.55 M584.5,154.55 H589.5 M584.5,163.55 H589.5" stroke="#a83c3c" stroke-width="1.0" fill="none"/>
<path d="M630.5,140.51 V149.51 M628,140.51 H633 M628,149.51 H633" stroke="#a83c3c" stroke-width="1.0" fill="none"/>
<path d="M413,73.3 L415.81,78.39 L410.19,78.39 Z" fill="#008a00"/>
<path d="M456.5,95.07 L459.31,100.15 L453.69,100.15 Z" fill="#008a00"/>
<path d="M500,116.83 L502.81,121.91 L497.19,121.91 Z" fill="#008a00"/>
<path d="M543.5,94.36 L546.3,99.45 L540.7,99.45 Z" fill="#008a00"/>
<path d="M587,81.73 L589.8,86.81 L584.2,86.81 Z" fill="#008a00"/>
<path d="M630.5,57.51 L633.3,62.6 L627.7,62.6 Z" fill="#008a00"/>
<path d="M413,121.24 L415.81,116.15 L410.19,116.15 Z" fill="#008a00"/>
<path d="M456.5,149.32 L459.31,144.23 L453.69,144.23 Z" fill="#008a00"/>
<path d="M500,176.69 L502.81,171.61 L497.19,171.61 Z" fill="#008a00"/>
<path d="M543.5,154.23 L546.3,149.14 L540.7,149.14 Z" fill="#008a00"/>
<path d="M587,127.55 L589.8,122.47 L584.2,122.47 Z" fill="#008a00"/>
<path d="M630.5,113.51 L633.3,108.43 L627.7,108.43 Z" fill="#008a00"/>
<rect x="410.45" y="122.8" width="5.1" height="5.1" fill="#008a00"/>
<rect x="453.95" y="150.88" width="5.1" height="5.1" fill="#008a00"/>
<rect x="497.45" y="178.26" width="5.1" height="5.1" fill="#008a00"/>
<rect x="540.95" y="156.5" width="5.1" height="5.1" fill="#008a00"/>
<rect x="584.45" y="129.12" width="5.1" height="5.1" fill="#008a00"/>
<rect x="627.95" y="114.38" width="5.1" height="5.1" fill="#008a00"/>
<circle cx="413" cy="152.03" r="2.81" fill="#008a00"/>
<circle cx="456.5" cy="180.11" r="2.81" fill="#008a00"/>
<circle cx="500" cy="208.89" r="2.81" fill="#008a00"/>
<circle cx="543.5" cy="188.53" r="2.81" fill="#008a00"/>
<circle cx="587" cy="159.05" r="2.81" fill="#008a00"/>
<circle cx="630.5" cy="145.01" r="2.81" fill="#008a00"/>
<rect x="462.4" y="21.3" width="187.3" height="16.8" fill="#fff" stroke="#3c3cf0" stroke-width="1"/>
<text x="463.9" y="28.3" font-family='"Liberation Serif", serif' font-weight="bold" font-size="6.4" fill="#1c1ca8" text-decoration="underline">Fuel (NOx)</text>
<path d="M463.5,33.8 H478" stroke="#3a3ab8" stroke-width="1.3"/>
<rect x="468.4" y="31.5" width="4.6" height="4.6" fill="#000"/>
<text x="479.8" y="36.1" font-family='"Liberation Serif", serif' font-size="6.45" fill="#1a1a1a" stroke="#1a1a1a" stroke-width="0.03">Diesel (D100)</text>
<path d="M517.4,33.8 H532" stroke="#3a3ab8" stroke-width="1.3"/>
<circle cx="524.8" cy="33.8" r="2.53" fill="#000"/>
<text x="533.7" y="36.1" font-family='"Liberation Serif", serif' font-size="6.45" fill="#1a1a1a" stroke="#1a1a1a" stroke-width="0.03">D10030</text>
<path d="M556,33.8 H570.5" stroke="#3a3ab8" stroke-width="1.3"/>
<path d="M563.3,31.18 L565.83,35.77 L560.77,35.77 Z" fill="#000"/>
<text x="571.9" y="36.1" font-family='"Liberation Serif", serif' font-size="6.45" fill="#1a1a1a" stroke="#1a1a1a" stroke-width="0.03">MOME20</text>
<path d="M599.6,33.8 H614.6" stroke="#3a3ab8" stroke-width="1.3"/>
<path d="M607,36.42 L609.53,31.83 L604.47,31.83 Z" fill="#000"/>
<text x="615.8" y="36.1" font-family='"Liberation Serif", serif' font-size="6.45" fill="#1a1a1a" stroke="#1a1a1a" stroke-width="0.03">MOME2030</text>
<rect x="462.4" y="40.3" width="187.3" height="16.6" fill="#fff" stroke="#f25a5a" stroke-width="1"/>
<text x="463.9" y="46.9" font-family='"Liberation Serif", serif' font-weight="bold" font-size="6.4" fill="#f01818" text-decoration="underline">Fuel blends (HC)</text>
<path d="M463.5,53 H478" stroke="#ff1c1c" stroke-width="1.3"/>
<rect x="468" y="50.3" width="5.4" height="5.4" fill="#008a00"/>
<text x="479.8" y="55.3" font-family='"Liberation Serif", serif' font-size="6.45" fill="#1a1a1a" stroke="#1a1a1a" stroke-width="0.03">Diesel (D100)</text>
<path d="M517.4,53 H532" stroke="#ff1c1c" stroke-width="1.3"/>
<circle cx="524.8" cy="53" r="2.97" fill="#008a00"/>
<text x="533.7" y="55.3" font-family='"Liberation Serif", serif' font-size="6.45" fill="#1a1a1a" stroke="#1a1a1a" stroke-width="0.03">D10030</text>
<path d="M556,53 H570.5" stroke="#ff1c1c" stroke-width="1.3"/>
<path d="M563.3,49.92 L566.27,55.31 L560.33,55.31 Z" fill="#008a00"/>
<text x="571.9" y="55.3" font-family='"Liberation Serif", serif' font-size="6.45" fill="#1a1a1a" stroke="#1a1a1a" stroke-width="0.03">MOME20</text>
<path d="M599.6,53 H614.6" stroke="#ff1c1c" stroke-width="1.3"/>
<path d="M607,56.08 L609.97,50.69 L604.03,50.69 Z" fill="#008a00"/>
<text x="615.8" y="55.3" font-family='"Liberation Serif", serif' font-size="6.45" fill="#1a1a1a" stroke="#1a1a1a" stroke-width="0.03">MOME2030</text>
</svg>
</body></html>
